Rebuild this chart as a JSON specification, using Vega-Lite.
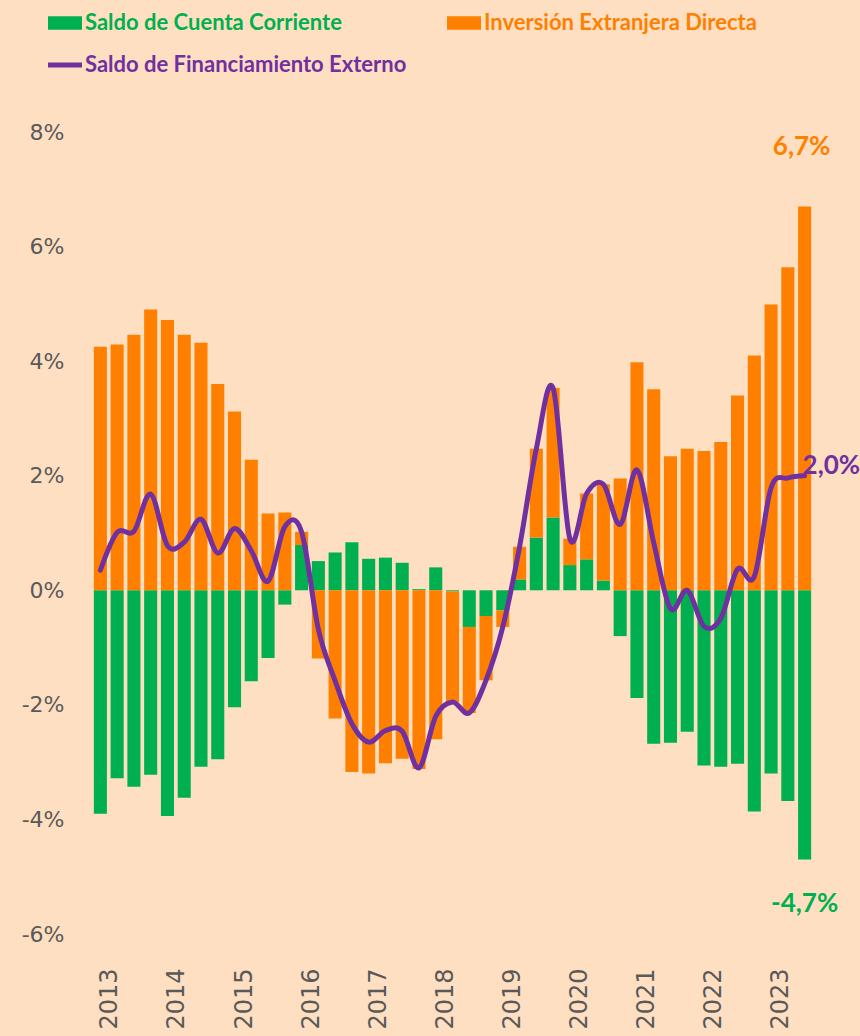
{
  "$schema": "https://vega.github.io/schema/vega-lite/v6.json",
  "width": 721,
  "height": 802,
  "autosize": {"type": "none"},
  "padding": {"left": 92, "top": 132, "right": 47, "bottom": 102},
  "background": "#FFDFC1",
  "config": {
    "view": {"stroke": null},
    "locale": {"number": {"decimal": ",", "thousands": ".", "grouping": [3], "currency": ["", " €"], "minus": "-"}}
  },
  "data": {
    "values": [
      {"q": "2013-T1", "Saldo de Cuenta Corriente": -0.0390, "Inversión Extranjera Directa": 0.0425, "Saldo de Financiamiento Externo": 0.0035},
      {"q": "2013-T2", "Saldo de Cuenta Corriente": -0.0328, "Inversión Extranjera Directa": 0.0429, "Saldo de Financiamiento Externo": 0.0101},
      {"q": "2013-T3", "Saldo de Cuenta Corriente": -0.0343, "Inversión Extranjera Directa": 0.0446, "Saldo de Financiamiento Externo": 0.0103},
      {"q": "2013-T4", "Saldo de Cuenta Corriente": -0.0322, "Inversión Extranjera Directa": 0.0490, "Saldo de Financiamiento Externo": 0.0168},
      {"q": "2014-T1", "Saldo de Cuenta Corriente": -0.0394, "Inversión Extranjera Directa": 0.0472, "Saldo de Financiamiento Externo": 0.0078},
      {"q": "2014-T2", "Saldo de Cuenta Corriente": -0.0362, "Inversión Extranjera Directa": 0.0446, "Saldo de Financiamiento Externo": 0.0084},
      {"q": "2014-T3", "Saldo de Cuenta Corriente": -0.0308, "Inversión Extranjera Directa": 0.0432, "Saldo de Financiamiento Externo": 0.0124},
      {"q": "2014-T4", "Saldo de Cuenta Corriente": -0.0295, "Inversión Extranjera Directa": 0.0360, "Saldo de Financiamiento Externo": 0.0065},
      {"q": "2015-T1", "Saldo de Cuenta Corriente": -0.0204, "Inversión Extranjera Directa": 0.0312, "Saldo de Financiamiento Externo": 0.0108},
      {"q": "2015-T2", "Saldo de Cuenta Corriente": -0.0159, "Inversión Extranjera Directa": 0.0228, "Saldo de Financiamiento Externo": 0.0069},
      {"q": "2015-T3", "Saldo de Cuenta Corriente": -0.0118, "Inversión Extranjera Directa": 0.0134, "Saldo de Financiamiento Externo": 0.0016},
      {"q": "2015-T4", "Saldo de Cuenta Corriente": -0.0025, "Inversión Extranjera Directa": 0.0136, "Saldo de Financiamiento Externo": 0.0111},
      {"q": "2016-T1", "Saldo de Cuenta Corriente": 0.0079, "Inversión Extranjera Directa": 0.0023, "Saldo de Financiamiento Externo": 0.0102},
      {"q": "2016-T2", "Saldo de Cuenta Corriente": 0.0051, "Inversión Extranjera Directa": -0.0119, "Saldo de Financiamiento Externo": -0.0068},
      {"q": "2016-T3", "Saldo de Cuenta Corriente": 0.0066, "Inversión Extranjera Directa": -0.0224, "Saldo de Financiamiento Externo": -0.0158},
      {"q": "2016-T4", "Saldo de Cuenta Corriente": 0.0084, "Inversión Extranjera Directa": -0.0317, "Saldo de Financiamiento Externo": -0.0233},
      {"q": "2017-T1", "Saldo de Cuenta Corriente": 0.0055, "Inversión Extranjera Directa": -0.0320, "Saldo de Financiamiento Externo": -0.0265},
      {"q": "2017-T2", "Saldo de Cuenta Corriente": 0.0057, "Inversión Extranjera Directa": -0.0302, "Saldo de Financiamiento Externo": -0.0245},
      {"q": "2017-T3", "Saldo de Cuenta Corriente": 0.0048, "Inversión Extranjera Directa": -0.0294, "Saldo de Financiamiento Externo": -0.0246},
      {"q": "2017-T4", "Saldo de Cuenta Corriente": 0.0002, "Inversión Extranjera Directa": -0.0312, "Saldo de Financiamiento Externo": -0.0310},
      {"q": "2018-T1", "Saldo de Cuenta Corriente": 0.0040, "Inversión Extranjera Directa": -0.0260, "Saldo de Financiamiento Externo": -0.0220},
      {"q": "2018-T2", "Saldo de Cuenta Corriente": -0.0002, "Inversión Extranjera Directa": -0.0193, "Saldo de Financiamiento Externo": -0.0195},
      {"q": "2018-T3", "Saldo de Cuenta Corriente": -0.0064, "Inversión Extranjera Directa": -0.0150, "Saldo de Financiamiento Externo": -0.0214},
      {"q": "2018-T4", "Saldo de Cuenta Corriente": -0.0045, "Inversión Extranjera Directa": -0.0112, "Saldo de Financiamiento Externo": -0.0157},
      {"q": "2019-T1", "Saldo de Cuenta Corriente": -0.0035, "Inversión Extranjera Directa": -0.0029, "Saldo de Financiamiento Externo": -0.0064},
      {"q": "2019-T2", "Saldo de Cuenta Corriente": 0.0019, "Inversión Extranjera Directa": 0.0057, "Saldo de Financiamiento Externo": 0.0076},
      {"q": "2019-T3", "Saldo de Cuenta Corriente": 0.0092, "Inversión Extranjera Directa": 0.0155, "Saldo de Financiamiento Externo": 0.0247},
      {"q": "2019-T4", "Saldo de Cuenta Corriente": 0.0127, "Inversión Extranjera Directa": 0.0226, "Saldo de Financiamiento Externo": 0.0353},
      {"q": "2020-T1", "Saldo de Cuenta Corriente": 0.0044, "Inversión Extranjera Directa": 0.0046, "Saldo de Financiamiento Externo": 0.0090},
      {"q": "2020-T2", "Saldo de Cuenta Corriente": 0.0054, "Inversión Extranjera Directa": 0.0115, "Saldo de Financiamiento Externo": 0.0169},
      {"q": "2020-T3", "Saldo de Cuenta Corriente": 0.0017, "Inversión Extranjera Directa": 0.0168, "Saldo de Financiamiento Externo": 0.0185},
      {"q": "2020-T4", "Saldo de Cuenta Corriente": -0.0080, "Inversión Extranjera Directa": 0.0195, "Saldo de Financiamiento Externo": 0.0115},
      {"q": "2021-T1", "Saldo de Cuenta Corriente": -0.0188, "Inversión Extranjera Directa": 0.0398, "Saldo de Financiamiento Externo": 0.0210},
      {"q": "2021-T2", "Saldo de Cuenta Corriente": -0.0268, "Inversión Extranjera Directa": 0.0351, "Saldo de Financiamiento Externo": 0.0083},
      {"q": "2021-T3", "Saldo de Cuenta Corriente": -0.0266, "Inversión Extranjera Directa": 0.0234, "Saldo de Financiamiento Externo": -0.0032},
      {"q": "2021-T4", "Saldo de Cuenta Corriente": -0.0247, "Inversión Extranjera Directa": 0.0247, "Saldo de Financiamiento Externo": 0.0000},
      {"q": "2022-T1", "Saldo de Cuenta Corriente": -0.0306, "Inversión Extranjera Directa": 0.0243, "Saldo de Financiamiento Externo": -0.0063},
      {"q": "2022-T2", "Saldo de Cuenta Corriente": -0.0308, "Inversión Extranjera Directa": 0.0259, "Saldo de Financiamiento Externo": -0.0049},
      {"q": "2022-T3", "Saldo de Cuenta Corriente": -0.0303, "Inversión Extranjera Directa": 0.0340, "Saldo de Financiamiento Externo": 0.0037},
      {"q": "2022-T4", "Saldo de Cuenta Corriente": -0.0386, "Inversión Extranjera Directa": 0.0410, "Saldo de Financiamiento Externo": 0.0024},
      {"q": "2023-T1", "Saldo de Cuenta Corriente": -0.0320, "Inversión Extranjera Directa": 0.0499, "Saldo de Financiamiento Externo": 0.0179},
      {"q": "2023-T2", "Saldo de Cuenta Corriente": -0.0368, "Inversión Extranjera Directa": 0.0564, "Saldo de Financiamiento Externo": 0.0196},
      {"q": "2023-T3", "Saldo de Cuenta Corriente": -0.0470, "Inversión Extranjera Directa": 0.0670, "Saldo de Financiamiento Externo": 0.0200}
    ]
  },
  "layer": [
    {
      "transform": [{"fold": ["Saldo de Cuenta Corriente", "Inversión Extranjera Directa"], "as": ["serie", "valor"]}],
      "mark": {"type": "bar"},
      "encoding": {
        "x": {
          "field": "q", "type": "ordinal", "title": null,
          "scale": {"paddingInner": 0.22, "paddingOuter": 0.11},
          "axis": {
            "labelExpr": "slice(datum.value, 5) == 'T1' ? slice(datum.value, 0, 4) : ''",
            "labelAngle": -90, "domain": false, "ticks": false, "labelPadding": 34,
            "labelFont": "DejaVu Sans", "labelFontSize": 24, "labelColor": "#595959",
            "labelOffset": 10, "labelOverlap": false, "labelBound": false
          }
        },
        "y": {
          "field": "valor", "type": "quantitative", "stack": "zero", "title": null,
          "scale": {"domain": [-0.06, 0.08], "nice": false},
          "axis": {
            "values": [-0.06, -0.04, -0.02, 0, 0.02, 0.04, 0.06, 0.08],
            "format": ".0%", "grid": false, "domain": false, "ticks": false, "labelPadding": 28,
            "labelFont": "DejaVu Sans", "labelFontSize": 22, "labelColor": "#595959"
          }
        },
        "color": {
          "field": "serie", "type": "nominal",
          "scale": {
            "domain": ["Saldo de Cuenta Corriente", "Inversión Extranjera Directa", "Saldo de Financiamiento Externo"],
            "range": ["#00B050", "#FF8000", "#7030A0"]
          },
          "legend": {
            "title": null, "orient": "none", "legendX": -44, "legendY": -126,
            "direction": "horizontal", "columns": 2, "columnPadding": 40, "rowPadding": 14,
            "symbolSize": 1156, "symbolType": "M-1,-0.4H1V0.4H-1Z", "symbolStrokeWidth": 0,
            "labelFont": "Lato", "labelFontSize": 22, "labelFontWeight": "bold", "labelOffset": 3, "labelLimit": 600,
            "encode": {
              "symbols": {"update": {
                "shape": {"signal": "datum.value == 'Saldo de Financiamiento Externo' ? 'M-1,-0.14H1V0.14H-1Z' : 'M-1,-0.4H1V0.4H-1Z'"},
                "fill": {"scale": "color", "field": "value"}
              }},
              "labels": {"update": {"fill": {"scale": "color", "field": "value"}}}
            }
          }
        },
        "order": {"field": "serie", "sort": "descending"}
      }
    },
    {
      "mark": {"type": "line", "interpolate": "cardinal", "strokeWidth": 5, "color": "#7030A0", "strokeCap": "round", "strokeJoin": "round"},
      "encoding": {
        "x": {"field": "q", "type": "ordinal", "title": null},
        "y": {"field": "Saldo de Financiamiento Externo", "type": "quantitative", "title": null}
      }
    },
    {
      "transform": [{"filter": "datum.q == '2023-T3'"}],
      "mark": {"type": "text", "font": "Lato", "fontWeight": "bold", "fontSize": 26, "color": "#FF8000", "dx": -3, "dy": -59, "baseline": "middle", "align": "center"},
      "encoding": {
        "x": {"field": "q", "type": "ordinal", "title": null},
        "y": {"field": "Inversión Extranjera Directa", "type": "quantitative", "title": null},
        "text": {"field": "Inversión Extranjera Directa", "type": "quantitative", "format": ".1%"}
      }
    },
    {
      "transform": [{"filter": "datum.q == '2023-T3'"}],
      "mark": {"type": "text", "font": "Lato", "fontWeight": "bold", "fontSize": 26, "color": "#7030A0", "dx": -2, "dy": -10, "baseline": "middle", "align": "left"},
      "encoding": {
        "x": {"field": "q", "type": "ordinal", "title": null},
        "y": {"field": "Saldo de Financiamiento Externo", "type": "quantitative", "title": null},
        "text": {"field": "Saldo de Financiamiento Externo", "type": "quantitative", "format": ".1%"}
      }
    },
    {
      "transform": [{"filter": "datum.q == '2023-T3'"}],
      "mark": {"type": "text", "font": "Lato", "fontWeight": "bold", "fontSize": 26, "color": "#00B050", "dx": 0, "dy": 44, "baseline": "middle", "align": "center"},
      "encoding": {
        "x": {"field": "q", "type": "ordinal", "title": null},
        "y": {"field": "Saldo de Cuenta Corriente", "type": "quantitative", "title": null},
        "text": {"field": "Saldo de Cuenta Corriente", "type": "quantitative", "format": ".1%"}
      }
    }
  ]
}
